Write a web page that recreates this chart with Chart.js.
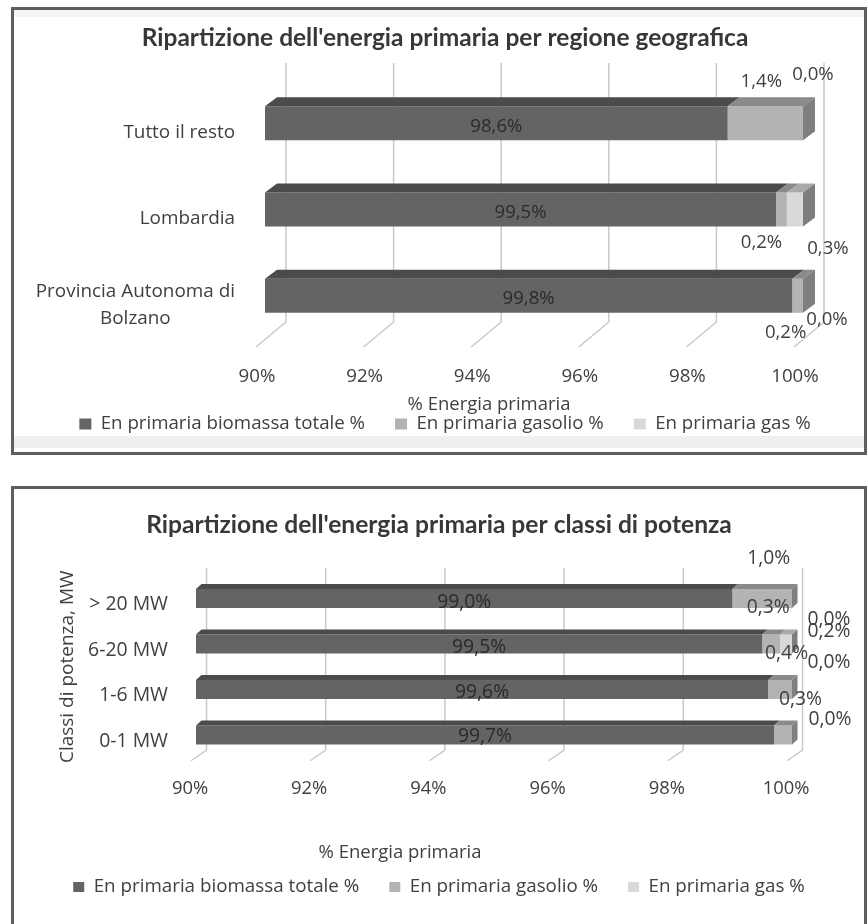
<!DOCTYPE html>
<html lang="it">
<head>
<meta charset="utf-8">
<title>Ripartizione dell'energia primaria</title>
<script src="https://cdn.jsdelivr.net/npm/chart.js@4.4.1/dist/chart.umd.min.js"></script>
<style>
  html, body { margin: 0; padding: 0; background: #ffffff; }
  body { width: 868px; height: 924px; position: relative; overflow: hidden; }
  canvas { position: absolute; }
  .frame { position: absolute; box-sizing: border-box; border: 3px solid #5e5e5e; pointer-events: none; }
</style>
</head>
<body>
<canvas id="regioni" width="856" height="448" style="left:11px;top:7px;width:856px;height:448px"></canvas>
<div class="frame" style="left:11px;top:7px;width:856px;height:448px"></div>
<canvas id="classi" width="856" height="438" style="left:11px;top:486px;width:856px;height:438px"></canvas>
<div class="frame" style="left:11px;top:486px;width:856px;height:460px"></div>

<script>
// ---- data ----
const seriesNames = ['En primaria biomassa totale %', 'En primaria gasolio %', 'En primaria gas %'];
const axisTicks = [90, 92, 94, 96, 98, 100];

const regionLabels = ['Tutto il resto', 'Lombardia', ['Provincia Autonoma di', 'Bolzano']];
const regionBiomassa = [98.6, 99.5, 99.8];
const regionGasolio = [1.4, 0.2, 0.2];
const regionGas = [0.0, 0.3, 0.0];

const classLabels = ['> 20 MW', '6-20 MW', '1-6 MW', '0-1 MW'];
const classBiomassa = [99.0, 99.5, 99.6, 99.7];
const classGasolio = [1.0, 0.3, 0.4, 0.3];
const classGas = [0.0, 0.2, 0.0, 0.0];

// ---- look ----
const SANS = "'Open Sans', 'DejaVu Sans', sans-serif";
const HEAD = "Lato, 'Open Sans', sans-serif";
const INK = '#404040';
const FRONT = ['#646464', '#b3b3b3', '#d9d9d9'];
const TOP = ['#4b4b4b', '#8a8a8a', '#a9a9a9'];
const SIDE = ['#575757', '#7f7f7f', '#7d7d7d'];
const GRID = '#c9c9c9';
const LEGEND_GAP = 30;
const CAPTION = '% Energia primaria';

// where each value label sits, relative to the front face of its segment
const regionLabelShift = [
  [[0, 4], [0, 3], [0, 3]],
  [[-4, -41], [-20, 33], [-12, 37]],
  [[10, -48], [33, 39], [24, 24]]
];
const classLabelShift = [
  [[0, 4], [0, 4], [0, 3], [0, 2]],
  [[6.5, -39.5], [-3, -36], [6.5, -36], [17.5, -35]],
  [[37, 21.5], [43, -12], [37, -27], [38, -15]]
];

function fitSize(text, weight, family, width) {
  const c = document.createElement('canvas').getContext('2d');
  c.font = weight + ' 100px ' + family;
  return Math.round(1000 * width / c.measureText(text).width) / 10;
}
const pct = v => v.toFixed(1).replace('.', ',') + '%';

function poly(ctx, pts, fill) {
  ctx.beginPath();
  ctx.moveTo(pts[0][0], pts[0][1]);
  for (let k = 1; k < pts.length; k++) ctx.lineTo(pts[k][0], pts[k][1]);
  ctx.closePath();
  ctx.fillStyle = fill;
  ctx.fill();
}

// draws the 3D walls, bar tops/sides, value labels and captions of an Excel-style 3D bar chart
function excel3d(spec, fonts) {
  return {
    id: 'excel3d',
    beforeDraw(chart) {
      if (!spec.strips) return;
      const {ctx, width} = chart;
      ctx.save();
      spec.strips.forEach(s => { ctx.fillStyle = s.color; ctx.fillRect(0, s.y, width, s.h); });
      ctx.restore();
    },
    beforeDatasetsDraw(chart) {
      const {ctx, chartArea: a, scales: {x}} = chart;
      ctx.save();
      ctx.strokeStyle = GRID;
      ctx.lineWidth = 1.5;
      x.ticks.forEach(t => {
        const px = x.getPixelForValue(t.value);
        ctx.beginPath();
        ctx.moveTo(px + spec.wall[0], a.top + spec.wall[1]);
        ctx.lineTo(px + spec.wall[0], a.bottom + spec.wall[1]);
        ctx.lineTo(px + spec.floor[0], a.bottom + spec.floor[1]);
        ctx.stroke();
      });
      ctx.restore();
    },
    afterDatasetsDraw(chart) {
      const {ctx} = chart;
      const [dx, dy] = spec.bar;
      const n = chart.data.labels.length;
      ctx.save();
      for (let i = 0; i < n; i++) {
        let last = null;
        chart.data.datasets.forEach((ds, d) => {
          const el = chart.getDatasetMeta(d).data[i];
          const {x, y, base, height} = el.getProps(['x', 'y', 'base', 'height'], true);
          const top = y - height / 2;
          const x0 = Math.min(x, base), x1 = Math.max(x, base);
          if (x1 - x0 > 0.05) {
            poly(ctx, [[x0, top], [x1, top], [x1 + dx, top + dy], [x0 + dx, top + dy]], ds.topColor);
            last = {x1, top, bottom: top + height, color: ds.sideColor};
          }
        });
        if (last) {
          poly(ctx, [[last.x1, last.top], [last.x1 + dx, last.top + dy],
                     [last.x1 + dx, last.bottom + dy], [last.x1, last.bottom]], last.color);
        }
      }
      // value labels
      ctx.textAlign = 'center';
      ctx.textBaseline = 'middle';
      ctx.font = fonts.label + 'px ' + SANS;
      chart.data.datasets.forEach((ds, d) => {
        chart.getDatasetMeta(d).data.forEach((el, i) => {
          const {x, y, base} = el.getProps(['x', 'y', 'base'], true);
          const cx = (Math.max(Math.min(x, base), chart.chartArea.left) + Math.max(x, base)) / 2;
          const s = spec.labelShift[d][i];
          ctx.fillStyle = d === 0 ? '#2a2a2a' : INK;
          ctx.fillText(pct(ds.data[i]), cx + s[0], y + s[1]);
        });
      });
      ctx.restore();
    },
    afterDraw(chart) {
      const {ctx} = chart;
      ctx.save();
      ctx.fillStyle = INK;
      ctx.textBaseline = 'middle';
      ctx.textAlign = 'center';
      ctx.font = fonts.caption + 'px ' + SANS;
      ctx.fillText(CAPTION, spec.caption.x, spec.caption.y);
      if (spec.drawCategories) {
        const yScale = chart.scales.y;
        ctx.font = fonts.cat + 'px ' + SANS;
        chart.data.labels.forEach((lab, i) => {
          const lines = Array.isArray(lab) ? lab : [lab];
          const widest = Math.max(...lines.map(l => ctx.measureText(l).width));
          const cx = spec.catRight - widest / 2;
          const cy = yScale.getPixelForValue(i) + spec.catShift;
          lines.forEach((l, k) => {
            ctx.fillText(l, cx, cy + (k - (lines.length - 1) / 2) * spec.catLineGap);
          });
        });
      }
      ctx.restore();
    }
  };
}

function drawChart(canvasId, spec) {
  const canvas = document.getElementById(canvasId);
  const W = canvas.width, H = canvas.height;
  const fonts = {
    title: fitSize(spec.title, 'bold', HEAD, spec.titleWidth),
    tick: fitSize('100%', 'normal', SANS, spec.tickWidth),
    legend: fitSize(seriesNames[0], 'normal', SANS, spec.legendWidth),
    label: fitSize(spec.labelSample, 'normal', SANS, spec.labelWidth),
    caption: fitSize(CAPTION, 'normal', SANS, spec.captionWidth),
    cat: fitSize(spec.catSample, 'normal', SANS, spec.catWidth),
    yTitle: spec.yTitle ? fitSize(spec.yTitle.text, 'normal', SANS, spec.yTitle.width) : 12
  };
  const legendBottom = spec.legendY + 10 + fonts.legend / 2;
  const xAxisHeight = legendBottom - fonts.legend - LEGEND_GAP - 10 - spec.area.bottom;
  const titleTop = spec.titleY - 0.6 * fonts.title;
  const titleBottom = spec.area.top - spec.titleY - 0.6 * fonts.title;

  const yAxis = {
    type: 'category', stacked: true,
    grid: {display: false, drawTicks: false}, border: {display: false},
    afterFit: s => { s.width = spec.area.left - spec.padLeft; },
    ticks: spec.drawCategories ? {display: false} : {
      font: {family: SANS, size: fonts.cat}, color: INK,
      padding: spec.area.left - spec.catRight, labelOffset: spec.catShift, crossAlign: 'near'
    },
    title: spec.yTitle ? {
      display: true, text: spec.yTitle.text, color: INK,
      font: {family: SANS, size: fonts.yTitle},
      padding: {top: spec.yTitle.x - spec.padLeft - 0.6 * fonts.yTitle, bottom: 0}
    } : {display: false}
  };

  return new Chart(canvas, {
    type: 'bar',
    data: {
      labels: spec.labels,
      datasets: spec.series.map((values, d) => {
        const ds = {
          label: seriesNames[d], data: values,
          backgroundColor: FRONT[d], topColor: TOP[d], sideColor: SIDE[d],
          borderWidth: 0, categoryPercentage: 1, barPercentage: spec.barPct
        };
        if (d === 0) ds.base = axisTicks[0];
        return ds;
      })
    },
    options: {
      indexAxis: 'y',
      responsive: false, animation: false, devicePixelRatio: 1, events: [],
      layout: {padding: {left: spec.padLeft, right: 0, top: 0, bottom: H - legendBottom}},
      scales: {
        x: {
          type: 'linear', stacked: true,
          min: axisTicks[0], max: axisTicks[axisTicks.length - 1],
          grid: {display: false, drawTicks: false}, border: {display: false},
          afterBuildTicks: s => { s.ticks = axisTicks.map(v => ({value: v})); },
          afterFit: s => { s.height = xAxisHeight; },
          ticks: {
            callback: v => v + '%', autoSkip: false, maxRotation: 0,
            labelOffset: spec.tickShift,
            padding: spec.tickY - spec.area.bottom - 0.6 * fonts.tick,
            font: {family: SANS, size: fonts.tick}, color: INK
          }
        },
        y: yAxis,
        edge: {
          type: 'linear', position: 'right', display: true,
          grid: {display: false, drawTicks: false}, border: {display: false},
          ticks: {display: false},
          afterFit: s => { s.width = W - spec.area.right; }
        }
      },
      plugins: {
        title: {
          display: true, text: spec.title, color: '#383838',
          font: {family: HEAD, size: fonts.title, weight: 'bold'},
          padding: {top: titleTop, bottom: titleBottom}
        },
        legend: {
          position: 'bottom',
          labels: {
            boxWidth: spec.legendBox, boxHeight: spec.legendBox - 1, padding: LEGEND_GAP,
            font: {family: SANS, size: fonts.legend}, color: INK
          }
        },
        tooltip: {enabled: false}
      }
    },
    plugins: [excel3d(spec, fonts)]
  });
}

drawChart('regioni', {
  labels: regionLabels,
  series: [regionBiomassa, regionGasolio, regionGas],
  title: "Ripartizione dell'energia primaria per regione geografica",
  titleWidth: 606, titleY: 31,
  area: {left: 254, right: 792, top: 73, bottom: 332},
  padLeft: 12, barPct: 0.393,
  wall: [21, -17], floor: [-9, 8], bar: [12, -9],
  tickY: 370, tickShift: -8, tickWidth: 47.5,
  legendY: 417, legendWidth: 265, legendBox: 12,
  caption: {x: 478, y: 398}, captionWidth: 163,
  labelSample: '98,6%', labelWidth: 52, labelShift: regionLabelShift,
  drawCategories: true, catSample: 'Provincia Autonoma di', catWidth: 199,
  catRight: 224, catShift: 9, catLineGap: 27,
  strips: [{y: 3, h: 7, color: '#f5f5f5'}, {y: 429, h: 12, color: '#efefef'}]
});

drawChart('classi', {
  labels: classLabels,
  series: [classBiomassa, classGasolio, classGas],
  title: "Ripartizione dell'energia primaria per classi di potenza",
  titleWidth: 585, titleY: 39,
  area: {left: 185, right: 781, top: 89.75, bottom: 271.75},
  padLeft: 0, barPct: 0.418,
  wall: [10.5, -7.75], floor: [-5, 3], bar: [5.5, -5],
  tickY: 303, tickShift: -6, tickWidth: 46.7,
  legendY: 401, legendWidth: 266, legendBox: 11,
  caption: {x: 389, y: 367}, captionWidth: 163,
  labelSample: '99,0%', labelWidth: 54, labelShift: classLabelShift,
  drawCategories: false, catSample: '6-20 MW', catWidth: 80,
  catRight: 157, catShift: 6,
  yTitle: {text: 'Classi di potenza, MW', x: 57, width: 193}
});
</script>
</body>
</html>
